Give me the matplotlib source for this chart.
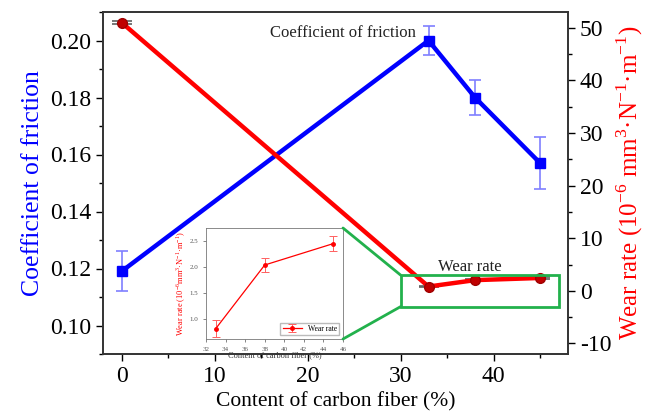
import numpy as np
import matplotlib
matplotlib.use("Agg")
import matplotlib.pyplot as plt
from matplotlib.patches import Rectangle, ConnectionPatch
from matplotlib.ticker import MultipleLocator

plt.rcParams["font.family"] = ["Liberation Serif", "DejaVu Serif"]
plt.rcParams["mathtext.fontset"] = "custom"
plt.rcParams["mathtext.rm"] = "Liberation Serif"
plt.rcParams["axes.unicode_minus"] = False

# data
fiber = [0, 33, 38, 45]
friction = [0.119, 0.200, 0.180, 0.157]
friction_err = [0.007, 0.005, 0.006, 0.009]
wear = [51.0, 0.82, 2.04, 2.45]
wear_err = [0.3, 0.17, 0.13, 0.15]

inset_fiber = [33, 38, 45]
inset_wear = [0.82, 2.04, 2.45]
inset_err = [0.17, 0.13, 0.15]

fig = plt.figure(figsize=(6.5, 4.13), dpi=100)
ax = fig.add_axes([103 / 650, 59 / 413, 465 / 650, 342 / 413])
ax2 = ax.twinx()

ax.errorbar(fiber, friction, yerr=friction_err, color="blue", lw=3.2,
            marker="s", ms=7, ecolor="#7f7fff", elinewidth=1.2, capsize=4,
            capthick=1.2, zorder=3)
ax2.errorbar(fiber, wear, yerr=wear_err, color="red", lw=3.2, marker="o",
             ms=7, mfc="#c00000", mec="#a00000", ecolor="#606060",
             elinewidth=1.2, capsize=7, capthick=1.2, zorder=3)

ax.set_xlim(-2, 48)
ax.set_ylim(0.09, 0.21)
ax2.set_ylim(-12, 53)
ax.xaxis.set_major_locator(MultipleLocator(10))
ax.xaxis.set_minor_locator(MultipleLocator(5))
ax.yaxis.set_major_locator(MultipleLocator(0.02))
ax.yaxis.set_minor_locator(MultipleLocator(0.01))
ax2.yaxis.set_major_locator(MultipleLocator(10))
ax2.yaxis.set_minor_locator(MultipleLocator(5))
ax.yaxis.set_major_formatter(plt.FormatStrFormatter("%.2f"))

for a in (ax, ax2):
    a.tick_params(which="major", direction="out", length=5, width=1, labelsize=17)
    a.tick_params(which="minor", direction="out", length=3, width=1)
    for s in a.spines.values():
        s.set_linewidth(1.2)
        s.set_color("#333333")

ax.set_xlabel("Content of carbon fiber (%)", fontsize=15.5, labelpad=4)
ax.set_ylabel("Coefficient of friction", fontsize=18.5, color="blue", labelpad=4)
ax2.set_ylabel("Wear rate (10$^{-6}$ mm$^{3}$·N$^{-1}$·m$^{-1}$)", fontsize=18,
               color="red", labelpad=2)

ax.text(23.8, 0.2025, "Coefficient of friction", fontsize=12, ha="center",
        va="center", color="#222222")
ax2.text(37.4, 4.6, "Wear rate", fontsize=12, ha="center", va="center",
         color="#222222")

# zoom box
box = Rectangle((30, -3), 17, 6, fill=False, ec="#22b14c", lw=2, zorder=4)
ax2.add_patch(box)

# inset
axin = fig.add_axes([206 / 650, 74 / 413, 137 / 650, 111 / 413])
axin.errorbar(inset_fiber, inset_wear, yerr=inset_err, color="red", lw=0.9,
              marker="o", ms=2.5, ecolor="#ff6060", elinewidth=0.7, capsize=3,
              capthick=0.7, label="Wear rate")
axin.set_xlim(32, 46)
axin.set_ylim(0.62, 2.75)
axin.xaxis.set_major_locator(MultipleLocator(2))
axin.yaxis.set_major_locator(MultipleLocator(0.5))
axin.yaxis.set_major_formatter(plt.FormatStrFormatter("%.1f"))
axin.tick_params(labelsize=5, length=2, width=0.5, colors="#555555")
for s in axin.spines.values():
    s.set_linewidth(0.6)
    s.set_color("#777777")
axin.set_xlabel("Content of carbon fiber (%)", fontsize=6, labelpad=0,
                color="#333333")
axin.set_ylabel("Wear rate (10$^{-6}$mm$^{3}$·N$^{-1}$·m$^{-1}$)", fontsize=6,
                color="red", labelpad=1)
axin.legend(loc="lower right", fontsize=5.5, frameon=True, handlelength=2.5,
            borderpad=0.3, fancybox=False, edgecolor="#aaaaaa")

for xy_box, xy_in in [((30, 3), (1, 1)), ((30, -3), (1, 0))]:
    con = ConnectionPatch(xyA=xy_box, coordsA=ax2.transData, xyB=xy_in,
                          coordsB=axin.transAxes, color="#22b14c", lw=2)
    fig.add_artist(con)

fig.savefig("out.png", dpi=100)
